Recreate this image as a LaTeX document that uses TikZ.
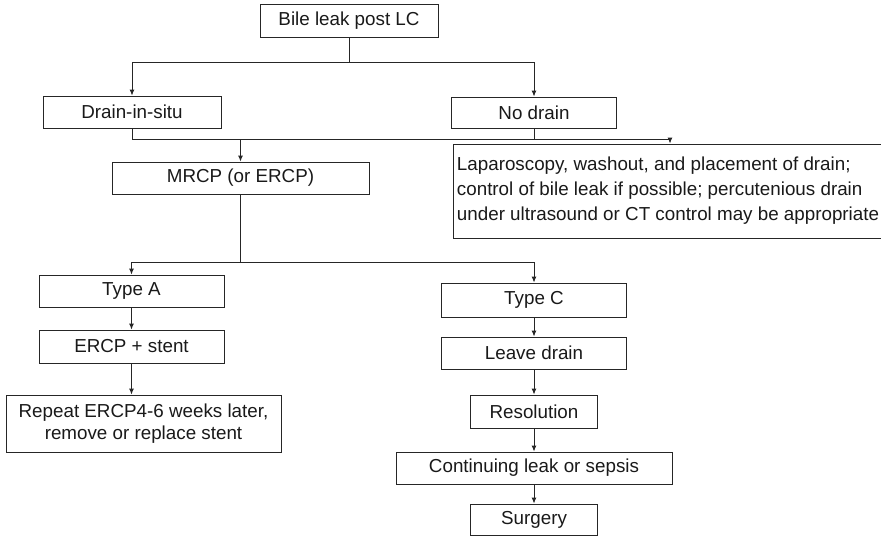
\documentclass[tikz,border=0pt]{standalone}
\usepackage{fontspec}
\setmainfont{Liberation Sans}
\usetikzlibrary{arrows.meta,calc}
\begin{document}
\begin{tikzpicture}[x=1pt,y=-1pt,
  box/.style={draw=black!85,line width=0.9pt,inner sep=0pt,text=black!90,
    font=\fontsize{18.8}{25}\selectfont},
  conn/.style={draw=black!85,line width=0.9pt},
  arr/.style={conn,-{Latex[length=6pt,width=5pt]}}]
\useasboundingbox (0,0) rectangle (881,536);
% nodes
\node[box,minimum width=178,minimum height=33] (top) at (349,20.5) {Bile leak post LC};
\node[box,minimum width=178,minimum height=32] (drain) at (132,112) {Drain-in-situ};
\node[box,minimum width=165,minimum height=31] (nodrain) at (534,112.5) {No drain};
\node[box,minimum width=257,minimum height=32] (mrcp) at (240.5,178) {MRCP (or ERCP)};
\node[box,anchor=west,align=left,inner xsep=3.5pt,minimum height=94] (lap) at (453,191)
  {Laparoscopy, washout, and placement of drain;\\control of bile leak if possible; percutenious drain\\under ultrasound or CT control may be appropriate};
\node[box,minimum width=185,minimum height=32] (typeA) at (131.5,291) {Type A};
\node[box,minimum width=185,minimum height=33] (ercp) at (131.5,346.5) {ERCP + stent};
\node[box,minimum width=275,minimum height=57,align=center,
  font=\fontsize{18.8}{22}\selectfont] (repeat) at (143.5,423.5) {Repeat ERCP4-6 weeks later,\\remove or replace stent};
\node[box,minimum width=185,minimum height=34] (typeC) at (534,300) {Type C};
\node[box,minimum width=185,minimum height=32] (leave) at (534,353) {Leave drain};
\node[box,minimum width=127,minimum height=33] (resol) at (534,411.5) {Resolution};
\node[box,minimum width=276,minimum height=32] (cont) at (534,468) {Continuing leak or sepsis};
\node[box,minimum width=127,minimum height=31] (surg) at (534,519.5) {Surgery};
% connectors
\coordinate (b1) at (349,62);
\draw[conn] (top.south) -- (b1);
\draw[arr] (b1) -| (drain.north);
\draw[arr] (b1) -| (nodrain.north);
\coordinate (b2L) at (132,139);
\coordinate (b2R) at (670,139);
\draw[conn] (drain.south) -- (b2L) -- (b2R);
\draw[conn] (nodrain.south) -- (nodrain.south |- b2L);
\draw[arr] (mrcp.north |- b2L) -- (mrcp.north);
\draw[arr] (b2R) -- (b2R |- lap.north);
\coordinate (b3) at (240.5,262);
\draw[conn] (mrcp.south) -- (b3);
\draw[arr] (b3) -| (typeA.north);
\draw[arr] (b3) -| (typeC.north);
\draw[arr] (typeA) -- (ercp);
\draw[arr] (ercp.south) -- (ercp.south |- repeat.north);
\draw[arr] (typeC) -- (leave);
\draw[arr] (leave) -- (resol);
\draw[arr] (resol) -- (cont);
\draw[arr] (cont) -- (surg);
\end{tikzpicture}
\end{document}
